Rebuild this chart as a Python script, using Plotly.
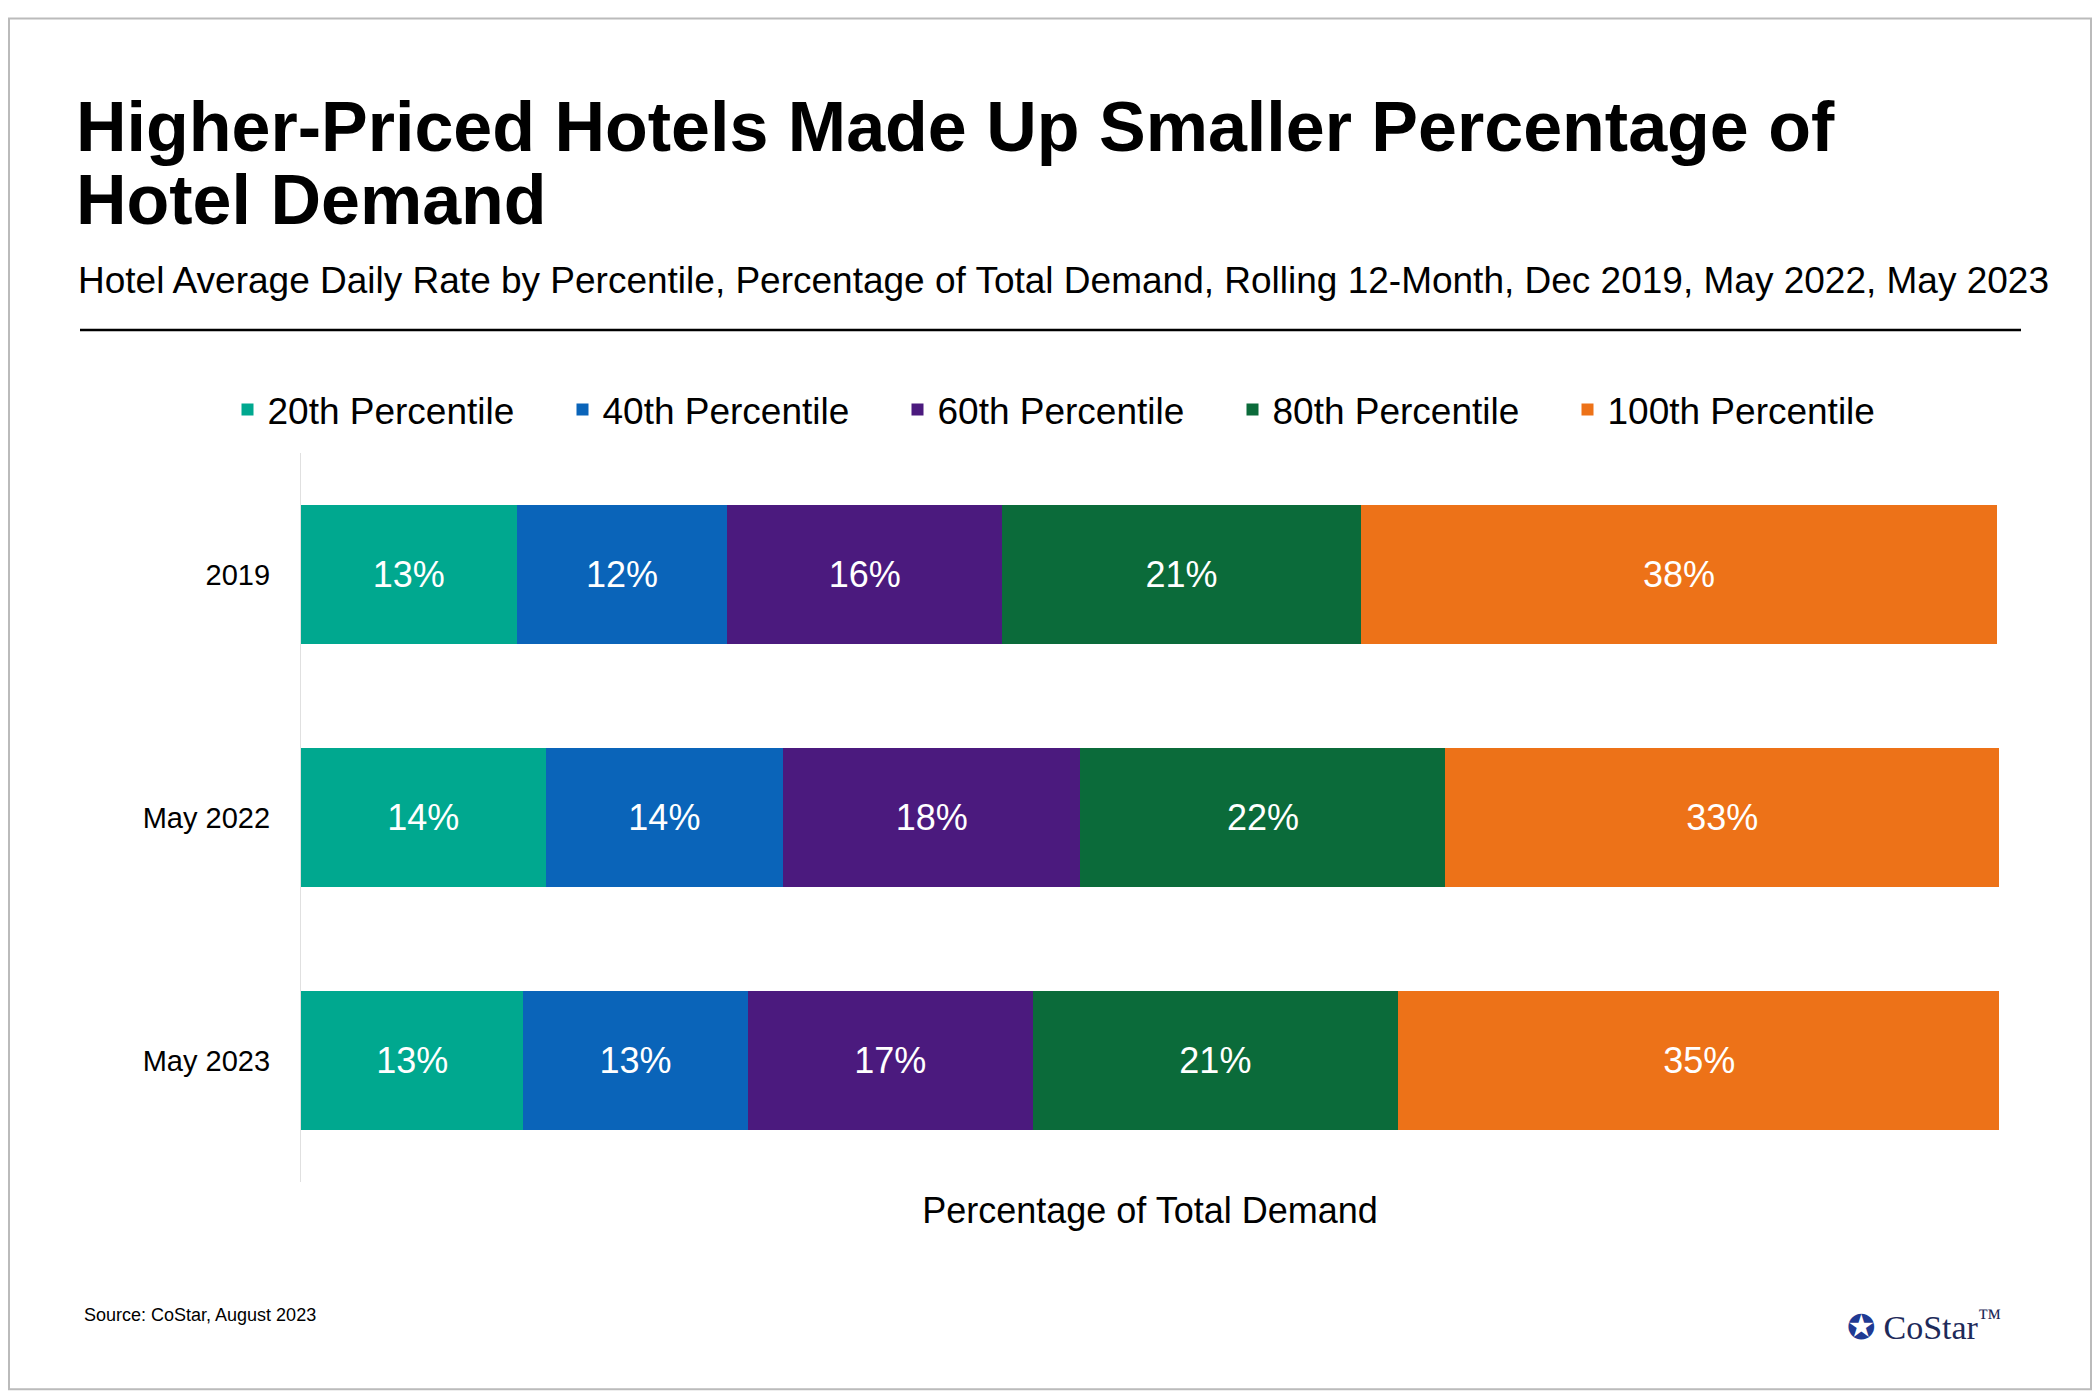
import plotly.graph_objects as go

periods = ["2019", "May 2022", "May 2023"]
series_names = ["20th Percentile", "40th Percentile", "60th Percentile", "80th Percentile", "100th Percentile"]
colors = ["#00A88F", "#0A64B9", "#4B1A7E", "#0B6B3A", "#ED7218"]

# shares of total demand
p20 = [12.7, 14.4, 13.1]
p40 = [12.4, 14.0, 13.2]
p60 = [16.2, 17.5, 16.8]
p80 = [21.1, 21.5, 21.5]
p100 = [37.5, 32.6, 35.5]
labels = [
    ["13%", "14%", "13%"],
    ["12%", "14%", "13%"],
    ["16%", "18%", "17%"],
    ["21%", "22%", "21%"],
    ["38%", "33%", "35%"],
]

font = "Liberation Sans, Arial, sans-serif"
W, H = 2100, 1400
L, R, T, B = 293, 109, 439, 226
pw, ph = W - L - R, H - T - B

fig = go.Figure()
for name, vals, col, lab in zip(series_names, [p20, p40, p60, p80, p100], colors, labels):
    fig.add_trace(go.Bar(
        y=periods, x=vals, name=name, orientation="h", marker_color=col,
        marker_line_width=0, text=lab, textposition="inside", insidetextanchor="middle",
        textfont=dict(color="white", size=36, family=font),
    ))

fig.update_layout(
    width=W, height=H, barmode="stack", bargap=0.43,
    paper_bgcolor="white", plot_bgcolor="white",
    margin=dict(l=L, r=R, t=T, b=B),
    font=dict(family=font, color="black"),
    showlegend=True,
    legend=dict(orientation="h", xref="container", yref="container", x=1057 / W, y=1 - 402 / H,
                xanchor="center", yanchor="middle", font=dict(size=37), traceorder="normal",
                entrywidth=290, itemwidth=30),
    xaxis=dict(range=[0, 100], showticklabels=False, showgrid=False, zeroline=False,
               title=dict(text="Percentage of Total Demand", font=dict(size=36), standoff=15)),
    yaxis=dict(autorange="reversed", showline=True, linecolor="#e0e0e0", ticks="",
               tickfont=dict(size=29), ticksuffix="   ", showgrid=False),
)

def px_x(x):
    return (x - L) / pw

def px_y(y):
    return 1 - (y - T) / ph

fig.add_annotation(text="<b>Higher-Priced Hotels Made Up Smaller Percentage of</b>",
                   xref="paper", yref="paper", x=px_x(66), y=px_y(110), xanchor="left", yanchor="middle",
                   showarrow=False, font=dict(size=70))
fig.add_annotation(text="<b>Hotel Demand</b>",
                   xref="paper", yref="paper", x=px_x(66), y=px_y(184), xanchor="left", yanchor="middle",
                   showarrow=False, font=dict(size=70))
fig.add_annotation(text="Hotel Average Daily Rate by Percentile, Percentage of Total Demand, Rolling 12-Month, Dec 2019, May 2022, May 2023",
                   xref="paper", yref="paper", x=px_x(68), y=px_y(265), xanchor="left", yanchor="middle",
                   showarrow=False, font=dict(size=37))
fig.add_shape(type="line", xref="paper", yref="paper", x0=px_x(72), x1=px_x(2013),
              y0=px_y(315), y1=px_y(315), line=dict(color="black", width=2.5))
fig.add_annotation(text="Source: CoStar, August 2023", xref="paper", yref="paper",
                   x=px_x(74), y=px_y(1308), xanchor="left", yanchor="middle",
                   showarrow=False, font=dict(size=18))
fig.add_annotation(text="<span style='color:#1f3a93'>✪</span> CoStar<sup>™</sup>", xref="paper", yref="paper",
                   x=px_x(1995), y=px_y(1318), xanchor="right", yanchor="middle",
                   showarrow=False, font=dict(size=34, family="Liberation Serif, serif", color="#1e2a5a"))
fig.add_shape(type="rect", xref="paper", yref="paper", x0=px_x(1), x1=px_x(W - 17),
              y0=px_y(H - 17), y1=px_y(1), line=dict(color="#bbbbbb", width=2))

fig.write_html("out.html")
